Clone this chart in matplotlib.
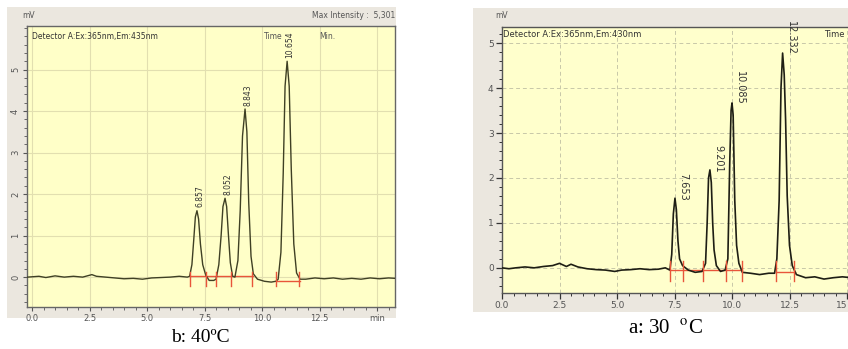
import matplotlib
matplotlib.use("Agg")
import matplotlib.pyplot as plt
from matplotlib.patches import Rectangle
from matplotlib.ticker import MultipleLocator

plt.rcParams['mathtext.fontset'] = 'stix'

# ---- panel b (40 C) trace: time (min), signal (mV)
b_t = [-0.2, 0.3, 0.6, 1.0, 1.4, 1.8, 2.2, 2.6, 2.8, 3.2, 3.6, 4.0, 4.4, 4.8, 5.2, 5.6, 6.0, 6.4, 6.75,
       6.85, 6.95, 7.03, 7.1, 7.17, 7.24, 7.32, 7.42, 7.55, 7.7, 7.9,
       8.0, 8.12, 8.22, 8.3, 8.39, 8.46, 8.54, 8.62, 8.72,
       8.82, 8.95, 9.05, 9.15, 9.26, 9.34, 9.42, 9.52, 9.62, 9.8, 10.1, 10.4, 10.6,
       10.7, 10.82, 10.92, 11.0, 11.09, 11.18, 11.27, 11.38, 11.5, 11.65, 11.9, 12.3, 12.7,
       13.1, 13.5, 13.9, 14.3, 14.7, 15.1, 15.5, 15.8]
b_v = [0.0, 0.02, -0.01, 0.03, 0.0, 0.02, 0.0, 0.06, 0.02, 0.0, -0.02, -0.04, -0.03, -0.05, -0.02, -0.01, 0.0, 0.02, 0.0,
       0.02, 0.3, 0.9, 1.45, 1.6, 1.4, 0.8, 0.3, 0.05, -0.08, -0.08,
       -0.05, 0.3, 1.0, 1.7, 1.9, 1.7, 1.0, 0.35, 0.02,
       0.0, 0.4, 1.6, 3.4, 4.05, 3.5, 1.8, 0.5, 0.08, -0.05, -0.1, -0.12, -0.1,
       -0.05, 0.6, 2.5, 4.6, 5.2, 4.6, 2.6, 0.8, 0.1, -0.05, -0.05, -0.02, -0.04,
       -0.02, -0.05, -0.03, -0.05, -0.02, -0.04, -0.02, -0.03]
b_peak_t = [7.17, 8.39, 9.26, 11.09]
b_peak_h = [1.6, 1.9, 4.05, 5.2]
b_peak_lbl = ["6.857", "8.052", "8.843", "10.654"]
b_base_t = [[6.85, 9.6], [10.62, 11.65]]
b_base_v = [[0.03, 0.03], [-0.1, -0.1]]
b_marks = [6.85, 7.55, 8.0, 8.65, 9.55, 10.62, 11.6]

# ---- panel a (30 C) trace
a_t = [0.0, 0.3, 0.6, 1.0, 1.4, 1.8, 2.2, 2.5, 2.8, 3.0, 3.3, 3.7, 4.1, 4.5, 4.9, 5.2, 5.6, 6.0, 6.4, 6.8, 7.1, 7.3,
       7.38, 7.45, 7.52, 7.58, 7.65, 7.72, 7.85, 8.1, 8.4, 8.7,
       8.85, 8.92, 8.98, 9.04, 9.1, 9.16, 9.22, 9.32, 9.5, 9.7,
       9.82, 9.9, 9.96, 10.0, 10.05, 10.12, 10.2, 10.3, 10.45, 10.8, 11.2, 11.6, 11.85,
       11.95, 12.05, 12.13, 12.2, 12.27, 12.33, 12.4, 12.5, 12.62, 12.8, 13.2, 13.6, 14.0,
       14.4, 14.8, 15.2, 15.6, 16.0]
a_v = [0.0, -0.02, 0.0, 0.02, 0.0, 0.03, 0.05, 0.1, 0.03, 0.08, 0.02, -0.02, -0.04, -0.05, -0.08, -0.05, -0.04, -0.02, -0.04, -0.03, 0.0, -0.05,
       0.3, 1.2, 1.55, 1.3, 0.6, 0.2, 0.05, -0.05, -0.1, -0.08,
       0.1, 1.0, 2.0, 2.18, 1.9, 1.0, 0.4, 0.05, -0.08, -0.05,
       0.2, 2.3, 3.5, 3.67, 3.4, 1.5, 0.5, 0.1, -0.1, -0.12, -0.15, -0.12, -0.12,
       0.2, 1.5, 4.0, 4.78, 4.3, 3.3, 1.6, 0.5, 0.05, -0.15, -0.22, -0.2, -0.25,
       -0.22, -0.2, -0.22, -0.2, -0.2]
a_peak_t = [7.52, 9.04, 10.0, 12.2]
a_peak_h = [1.55, 2.18, 3.67, 4.78]
a_peak_lbl = ["7.653", "9.201", "10.085", "12.332"]
a_base_t = [[7.3, 10.45], [11.9, 12.75]]
a_base_v = [[-0.05, -0.05], [-0.1, -0.1]]
a_marks = [7.3, 7.85, 8.75, 9.75, 10.45, 11.9, 12.7]

W, H = 848, 349
fig = plt.figure(figsize=(W / 100, H / 100), dpi=100)


def fx(px):
    return px / W


def fy(py):
    return 1 - py / H


gray = '#ebe7df'
# gray backgrounds of the two screenshots
fig.patches.append(Rectangle((fx(7), fy(318)), fx(389), 311 / H, transform=fig.transFigure,
                             facecolor=gray, edgecolor='none', zorder=-5))
fig.patches.append(Rectangle((fx(473), fy(312)), fx(380), 304 / H, transform=fig.transFigure,
                             facecolor=gray, edgecolor='none', zorder=-5))

# ---------------- left panel (b: 40 C)
ax1 = fig.add_axes([fx(27), fy(307), fx(368), 281 / H])
ax1.set_facecolor('#ffffc8')
ax1.plot(b_t, b_v, color='#3f4024', lw=1.0, zorder=3)
for tt, vv in zip(b_base_t, b_base_v):
    ax1.plot(tt, vv, color='#e8553a', lw=1.0, zorder=2)
for m in b_marks:
    ax1.plot([m, m], [-0.22, 0.12], color='#e8553a', lw=1.0, zorder=4)
for t, h, s in zip(b_peak_t, b_peak_h, b_peak_lbl):
    ax1.text(t + 0.12, h + 0.08, s, rotation=90, ha='center', va='bottom', fontsize=5.5, color='#333333')
ax1.set_xlim(-0.22, 15.78)
ax1.set_ylim(-0.72, 6.05)
ax1.xaxis.set_minor_locator(MultipleLocator(0.5))
ax1.yaxis.set_minor_locator(MultipleLocator(0.2))
ax1.set_xticks([0, 2.5, 5, 7.5, 10, 12.5, 15])
ax1.set_xticklabels(["0.0", "2.5", "5.0", "7.5", "10.0", "12.5", "min"], fontsize=6, color='#555555')
ax1.set_yticks([0, 1, 2, 3, 4, 5])
ax1.set_yticklabels(["0", "1", "2", "3", "4", "5"], fontsize=6, color='#555555', rotation=90, va='center')
ax1.tick_params(which='major', direction='out', length=3, width=0.8, color='#555555', pad=2)
ax1.tick_params(which='minor', direction='out', length=2, width=0.6, color='#555555')
ax1.grid(True, which='major', color='#e2dfb0', lw=0.8)
for sp in ax1.spines.values():
    sp.set_color('#666666')
    sp.set_linewidth(1.0)
fig.text(fx(22), fy(15), "mV", fontsize=5.5, color='#555555', va='center')
fig.text(fx(395), fy(15), "Max Intensity :  5,301", fontsize=5.5, color='#555555', va='center', ha='right')
ax1.text(0.0, 5.9, "Detector A:Ex:365nm,Em:435nm", fontsize=5.5, color='#333333', va='top')
ax1.text(10.1, 5.9, "Time", fontsize=5.5, color='#555555', va='top')
ax1.text(12.5, 5.9, "Min.", fontsize=5.5, color='#555555', va='top')
fig.text(fx(200), fy(337), "b: 40ºC", fontsize=14, family='Liberation Serif', ha='center', va='center')

# ---------------- right panel (a: 30 C)
ax2 = fig.add_axes([fx(502), fy(293), fx(368), 266 / H])
ax2.set_facecolor('#ffffcc')
ax2.plot(a_t, a_v, color='#1e1e14', lw=1.2, zorder=3)
for tt, vv in zip(a_base_t, a_base_v):
    ax2.plot(tt, vv, color='#e8553a', lw=1.0, zorder=2)
for m in a_marks:
    ax2.plot([m, m], [-0.3, 0.15], color='#e8553a', lw=1.0, zorder=4)
for t, h, s in zip(a_peak_t, a_peak_h, a_peak_lbl):
    ax2.text(t + 0.35, h - 0.05, s, rotation=270, ha='center', va='bottom', fontsize=7, color='#333333')
ax2.set_xlim(0, 16)
ax2.set_ylim(-0.56, 5.36)
ax2.set_xticks([0, 2.5, 5, 7.5, 10, 12.5, 15])
ax2.set_xticklabels(["0.0", "2.5", "5.0", "7.5", "10.0", "12.5", "15"], fontsize=6.5, color='#555555')
ax2.get_xticklabels()[-1].set_horizontalalignment('right')
ax2.xaxis.set_minor_locator(MultipleLocator(0.5))
ax2.set_yticks([0, 1, 2, 3, 4, 5])
ax2.set_yticklabels(["0", "1", "2", "3", "4", "5"], fontsize=6.5, color='#555555')
ax2.yaxis.set_minor_locator(MultipleLocator(0.2))
ax2.tick_params(which='major', direction='out', length=4, width=0.9, color='#333333', pad=2)
ax2.tick_params(which='minor', direction='out', length=2, width=0.7, color='#333333')
ax2.grid(True, which='major', color='#c8c8a8', lw=0.7, ls=(0, (4, 3)))
for sp in ax2.spines.values():
    sp.set_color('#555555')
    sp.set_linewidth(1.0)
fig.text(fx(495), fy(15), "mV", fontsize=5.5, color='#555555', va='center')
ax2.text(0.05, 5.3, "Detector A:Ex:365nm,Em:430nm", fontsize=6, color='#333333', va='top')
ax2.text(14.0, 5.3, "Time", fontsize=6, color='#333333', va='top')
fig.text(fx(665), fy(329), "a: 30  $^{\\mathrm{o}}$C", fontsize=15, family='Liberation Serif',
         ha='center', va='center')

fig.savefig("out.png", dpi=100)
